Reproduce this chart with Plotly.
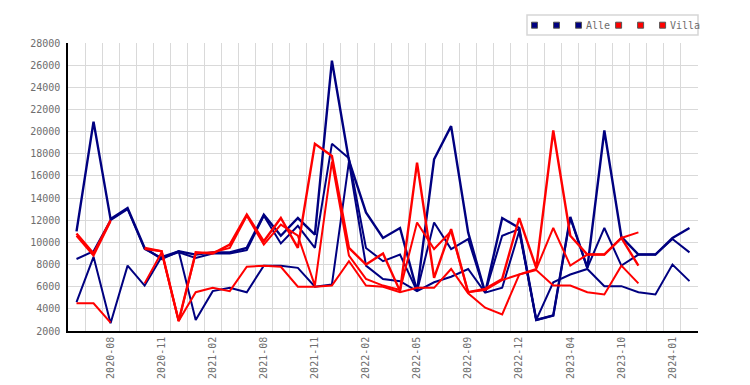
import plotly.graph_objects as go

# ---- data ----
months = ["2020-06", "2020-07", "2020-08", "2020-09", "2020-10", "2020-11", "2020-12",
          "2021-01", "2021-02", "2021-04", "2021-06", "2021-08", "2021-09", "2021-10",
          "2021-11", "2021-12", "2022-01", "2022-02", "2022-03", "2022-04", "2022-05",
          "2022-06", "2022-08", "2022-09", "2022-10", "2022-11", "2022-12", "2023-01",
          "2023-03", "2023-04", "2023-06", "2023-08", "2023-10", "2023-11", "2023-12",
          "2024-01", "2024-02"]

tick_labels = ["2020-08", "2020-11", "2021-02", "2021-08", "2021-11", "2022-02",
               "2022-05", "2022-09", "2022-12", "2023-04", "2023-10", "2024-01"]

alle_1 = [11000, 20900, 12100, 13100, 9500, 8500, 9200, 8900, 9100, 9100, 9500, 12500,
          10600, 12200, 10700, 26400, 17400, 12700, 10400, 11300, 5600, 17500, 20500,
          10900, 5460, 12200, 11300, 3000, 3400, 12300, 7700, 20100, 10500, 8900, 8900,
          10400, 11300]
alle_2 = [4600, 8700, 2700, 7900, 6100, 8700, 9200, 3000, 5600, 5900, 5500, 7900, 7900,
          7700, 6000, 6200, 17300, 7900, 6700, 6500, 5600, 6400, 6900, 7600, 5460, 5900,
          11000, 3000, 6400, 7100, 7600, 6050, 6050, 5500, 5300, 8000, 6500]
alle_3 = [8500, 9200, 12000, 13000, 9400, 8600, 9100, 8600, 9000, 9000, 9300, 12400,
          9900, 11500, 9500, 18900, 17600, 9500, 8300, 8900, 5600, 11800, 9400, 10300,
          5460, 10600, 11200, 3000, 3400, 12200, 7700, 11300, 7900, 8900, 8900, 10300, 9100]

villa_1 = [10800, 9000, 12000, None, 9500, 9200, 2900, 9100, 9000, 9800, 12500, 10100,
           12200, 9500, 18900, 17800, 9500, 8000, 9000, 5600, 17200, 6800, 11200, 5500,
           5800, 6700, 12200, 7700, 20100, 10600, 8900, 8900, 10400, 7900, None, None, None]
villa_2 = [4500, 4500, 2750, None, 6300, 9100, 2900, 5500, 5900, 5600, 7800, 7900, 7800,
           6000, 6000, 6100, 8300, 6100, 6000, 5500, 5900, 5900, 7600, 5400, 4100, 3500,
           7100, 7500, 6100, 6100, 5500, 5300, 7900, 6300, None, None, None]
villa_3 = [10600, 8800, 11900, None, 9400, 9200, 2900, 9000, 9100, 9500, 12400, 9800,
           11600, 10600, 6100, 17300, 8800, 6700, 6100, 5700, 11800, 9400, 11000, 5500,
           5700, 6600, 7100, 7600, 11300, 7900, 8900, 8900, 10400, 10900, None, None, None]

series_names = ["", "", "Alle", "", "", "Villa"]
series_values = [alle_1, alle_2, alle_3, villa_1, villa_2, villa_3]

# ---- style ----
NAVY = "#000080"
RED = "#ff0000"
colors = [NAVY, NAVY, NAVY, RED, RED, RED]
widths = [2.4, 2, 2, 2.4, 2, 2]
FONT = "DejaVu Sans Mono"
TXT = "#6e6e6e"
GRID = "#d9d9d9"

W, H = 750, 385
ML, MR, MT, MB = 60, 60, 35, 62
PW, PH = W - ML - MR, H - MT - MB

fig = go.Figure()
for name, vals, col, wd in zip(series_names, series_values, colors, widths):
    fig.add_trace(go.Scatter(
        x=months, y=vals, mode="lines", name=name,
        line=dict(color=col, width=wd), connectgaps=False,
        showlegend=False, hoverinfo="x+y"))

# ---- manual legend (layout decoration in pixel space) ----
def px_x(px):
    return (px - ML) / PW

def px_y(py):
    return (H - MB - py) / PH

shapes = []
annotations = []
box_x0, box_x1, box_y0, box_y1 = 519, 690, 7, 27
shapes.append(dict(type="rect", xref="paper", yref="paper",
                   x0=px_x(box_x0), x1=px_x(box_x1), y0=px_y(box_y1), y1=px_y(box_y0),
                   line=dict(color="#d6d6d6", width=1.5), fillcolor="white", layer="above"))
cx = 523.5
cy = 17.2
CHAR_W = 5.9
for name, col in zip(series_names, colors):
    shapes.append(dict(type="rect", xref="paper", yref="paper",
                       x0=px_x(cx), x1=px_x(cx + 6), y0=px_y(cy + 3), y1=px_y(cy - 3),
                       line=dict(color="#555555", width=1), fillcolor=col, layer="above"))
    if name:
        annotations.append(dict(xref="paper", yref="paper", x=px_x(cx + 8), y=px_y(cy),
                                xanchor="left", yanchor="middle", showarrow=False,
                                text=name, font=dict(family=FONT, size=10, color=TXT)))
        cx += 9 + len(name) * CHAR_W + 7.5
    else:
        cx += 22

fig.update_layout(
    width=W, height=H,
    margin=dict(l=ML, r=MR, t=MT, b=MB),
    paper_bgcolor="white", plot_bgcolor="white",
    showlegend=False,
    shapes=shapes, annotations=annotations,
    font=dict(family=FONT, size=10, color=TXT),
    xaxis=dict(type="category", categoryorder="array", categoryarray=months,
               range=[-0.5, len(months) - 0.5],
               tickmode="array", tickvals=months,
               ticktext=[m if m in tick_labels else "" for m in months],
               tickson="boundaries", ticks="", tickangle=-90,
               showgrid=True, gridcolor=GRID, gridwidth=1,
               showline=True, linecolor="black", linewidth=1.5,
               tickfont=dict(family=FONT, size=10, color=TXT),
               zeroline=False, mirror=False),
    yaxis=dict(range=[2000, 28000], tickmode="linear", tick0=2000, dtick=2000,
               tickformat="d", showgrid=True, gridcolor=GRID, gridwidth=1,
               showline=True, linecolor="black", linewidth=1.5,
               ticks="outside", ticklen=4, tickcolor="rgba(0,0,0,0)",
               tickfont=dict(family=FONT, size=10, color=TXT),
               zeroline=False),
)

fig.write_html("out.html")
